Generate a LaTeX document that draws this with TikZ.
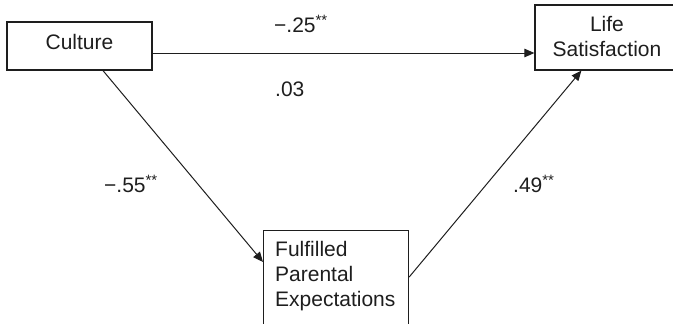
\documentclass[tikz,border=0pt]{standalone}
\usepackage{fontspec}
\setmainfont{Liberation Sans}
\usetikzlibrary{arrows.meta}
\definecolor{ink}{HTML}{1E1E1E}
\newcommand{\sig}{\raisebox{7pt}{\fontsize{15}{15}\selectfont **}}
\tikzset{
  box/.style={draw=ink, line width=1.2pt, inner sep=0pt},
  txt/.style={text=ink, inner sep=0pt, font=\fontsize{21}{25}\selectfont},
  coef/.style={txt, anchor=base west},
  arr/.style={draw=ink, line width=1pt,
    -{Triangle[length=10pt, width=8.5pt]}}
}
\begin{document}
\begin{tikzpicture}[x=1pt, y=-1pt]
  \useasboundingbox (0,0) rectangle (673,325);
  \begin{scope}
    \clip (0,0) rectangle (673,323);
    % construct boxes
    \node[box, txt, minimum width=145pt, text height=27pt, text depth=21pt,
          anchor=base] (culture) at (79.5,49) {Culture};
    \node[box, minimum width=144pt, minimum height=65pt] (life) at (607,37.5) {};
    \node[box, minimum width=145pt, minimum height=120pt,
          anchor=north west] (fpe) at (263,230) {};
    % box captions
    \node[txt, align=center, anchor=north] (lifetext) at (607,16.4)
      {Life\\Satisfaction};
    \node[txt, align=left, anchor=north west] (fpetext) at (275,241.4)
      {Fulfilled\\Parental\\Expectations};
    % paths
    \draw[arr] ([yshift=-7pt]culture.east) -- ([yshift=-7pt]culture.east -| life.west);
    \draw[arr] ([xshift=23.5pt]culture.south) -- ([yshift=-32pt]fpe.north west);
    \draw[arr] ([yshift=-47pt]fpe.north east) -- ([xshift=47pt]life.south west);
    % path coefficients
    \node[coef] (c25) at (274,32) {−.25\sig};
    \node[coef] (c03) at (275,96) {.03};
    \node[coef] (c55) at (104,192) {−.55\sig};
    \node[coef] (c49) at (513,192) {.49\sig};
  \end{scope}
\end{tikzpicture}
\end{document}
